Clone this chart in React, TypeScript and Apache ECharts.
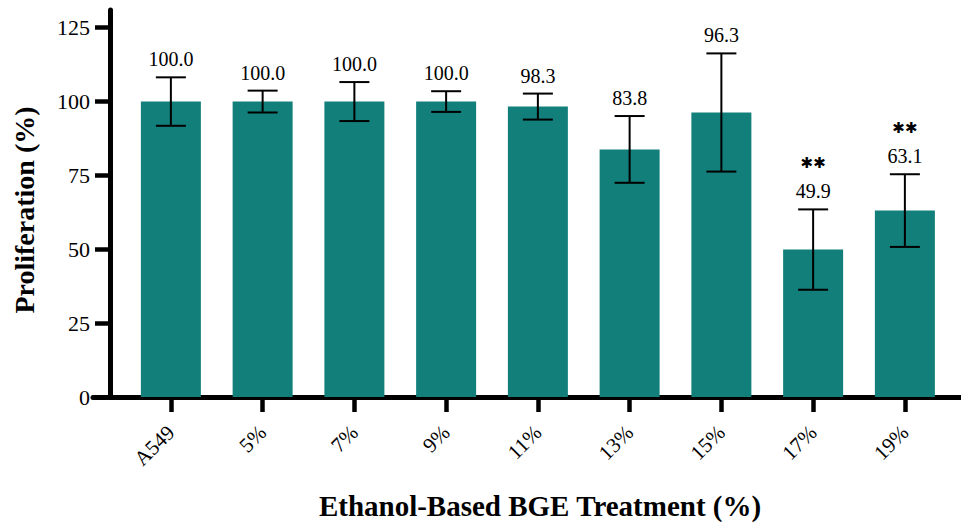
import React, { useEffect, useRef } from "react";
import * as echarts from "echarts";

const categories = ["A549", "5%", "7%", "9%", "11%", "13%", "15%", "17%", "19%"];
const means = [100.0, 100.0, 100.0, 100.0, 98.3, 83.8, 96.3, 49.9, 63.1];
const errors = [8.2, 3.7, 6.6, 3.5, 4.4, 11.3, 20.0, 13.6, 12.3];
const significance = ["", "", "", "", "", "", "", "✱✱", "✱✱"];
const yTicks = [0, 25, 50, 75, 100, 125];

const SERIF = "Liberation Serif";
const TEAL = "#127f7b";

export default function App() {
  const ref = useRef<HTMLDivElement>(null);
  useEffect(() => {
    if (!ref.current) return;
    const chart = echarts.init(ref.current, null, { renderer: "svg" });
    const errData = categories.map((c, i) => [i, means[i], errors[i]]);
    const option: any = {
      animation: false,
      backgroundColor: "#fff",
      textStyle: { fontFamily: SERIF },
      grid: [
        { left: 125, width: 825.75, top: 27.7, bottom: 126 },
        { left: 93, right: 0, top: 10, bottom: 126 },
        { left: 110, right: 0, top: 10, bottom: 126 },
      ],
      xAxis: [
        {
          type: "category",
          gridIndex: 0,
          data: categories,
          axisLine: { show: false },
          axisTick: { show: true, alignWithLabel: true, length: 15, lineStyle: { color: "#000", width: 4.5 } },
          axisLabel: { rotate: 45, margin: 32, color: "#000", fontFamily: SERIF, fontSize: 21 },
        },
        {
          type: "value",
          gridIndex: 1,
          min: 0,
          max: 1,
          axisLine: { show: true, lineStyle: { color: "#000", width: 5 } },
          axisTick: { show: false },
          axisLabel: { show: false },
          splitLine: { show: false },
        },
        { type: "value", gridIndex: 2, show: false, min: 0, max: 1 },
      ],
      yAxis: [
        {
          type: "value",
          gridIndex: 0,
          min: yTicks[0],
          max: yTicks[yTicks.length - 1],
          interval: 25,
          offset: 15,
          axisLine: { show: false },
          axisTick: { show: true, length: 15, lineStyle: { color: "#000", width: 4.5 } },
          axisLabel: { margin: 20, color: "#000", fontFamily: SERIF, fontSize: 22 },
          splitLine: { show: false },
        },
        { type: "value", gridIndex: 1, show: false, min: 0, max: 1 },
        {
          type: "value",
          gridIndex: 2,
          min: 0,
          max: 131,
          axisLine: { show: true, lineStyle: { color: "#000", width: 5 } },
          axisTick: { show: false },
          axisLabel: { show: false },
          splitLine: { show: false },
        },
      ],
      graphic: [
        {
          type: "text",
          x: 24,
          y: 210,
          rotation: Math.PI / 2,
          style: {
            text: "Proliferation (%)",
            fontFamily: SERIF,
            fontWeight: "bold",
            fontSize: 28,
            fill: "#000",
            textAlign: "center",
            textVerticalAlign: "middle",
          },
        },
        {
          type: "text",
          x: 540,
          y: 506,
          style: {
            text: "Ethanol-Based BGE Treatment (%)",
            fontFamily: SERIF,
            fontWeight: "bold",
            fontSize: 29,
            fill: "#000",
            textAlign: "center",
            textVerticalAlign: "middle",
          },
        },
      ],
      series: [
        {
          type: "bar",
          xAxisIndex: 0,
          yAxisIndex: 0,
          data: means,
          barWidth: 60,
          itemStyle: { color: TEAL },
        },
        {
          type: "custom",
          xAxisIndex: 0,
          yAxisIndex: 0,
          data: errData,
          z: 10,
          renderItem: (params: any, api: any) => {
            const i = api.value(0);
            const m = api.value(1);
            const e = api.value(2);
            const sig = significance[i];
            const top = api.coord([i, m + e]);
            const bot = api.coord([i, m - e]);
            const hw = 15;
            const ls = { stroke: "#000", lineWidth: 2 };
            const children: any[] = [
              { type: "line", shape: { x1: top[0], y1: top[1], x2: bot[0], y2: bot[1] }, style: ls },
              { type: "line", shape: { x1: top[0] - hw, y1: top[1], x2: top[0] + hw, y2: top[1] }, style: ls },
              { type: "line", shape: { x1: bot[0] - hw, y1: bot[1], x2: bot[0] + hw, y2: bot[1] }, style: ls },
              {
                type: "text",
                x: top[0],
                y: top[1] - 18,
                style: {
                  text: m.toFixed(1),
                  fontFamily: SERIF,
                  fontSize: 20,
                  fill: "#000",
                  textAlign: "center",
                  textVerticalAlign: "middle",
                },
              },
            ];
            if (sig) {
              children.push({
                type: "text",
                x: top[0],
                y: top[1] - 46,
                style: {
                  text: sig,
                  fontFamily: "DejaVu Sans",
                  fontWeight: "bold",
                  fontSize: 15,
                  fill: "#000",
                  textAlign: "center",
                  textVerticalAlign: "middle",
                },
              });
            }
            return { type: "group", children };
          },
        },
      ],
    };
    chart.setOption(option);
    return () => chart.dispose();
  }, []);
  return <div ref={ref} style={{ position: "absolute", left: 0, top: 0, width: 961, height: 523 }} />;
}
